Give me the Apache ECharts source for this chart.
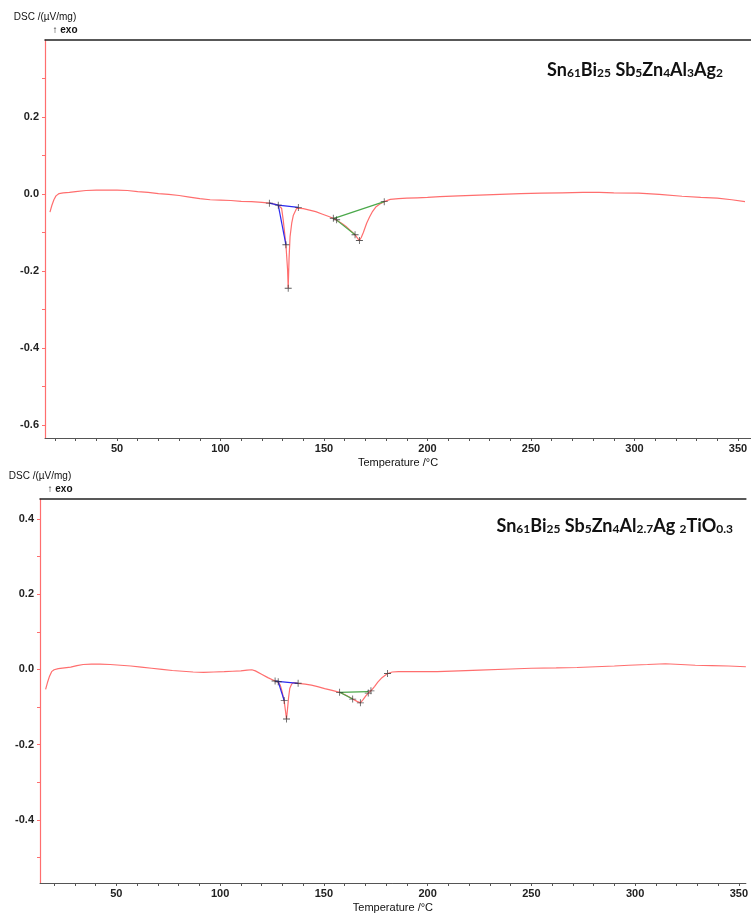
<!DOCTYPE html>
<html>
<head>
<meta charset="utf-8">
<script src="https://cdn.jsdelivr.net/npm/echarts@6/dist/echarts.min.js"></script>
<style>
html,body{margin:0;padding:0;background:#fff;}
#main{width:751px;height:914px;}
</style>
</head>
<body>
<div id="main"></div>
<script>
// 数据：温度 (°C) 与 DSC 信号 (µV/mg)
var curveTop = [
  [17.6,-0.047],[18.5,-0.030],[19.5,-0.015],[20.5,-0.005],[22,0.001],[24,0.003],[27,0.004],[30,0.006],
  [35,0.009],[40,0.010],[45,0.010],[50,0.010],[55,0.009],[60,0.006],[65,0.004],[70,0.001],[75,-0.001],
  [80,-0.004],[85,-0.008],[90,-0.012],[95,-0.015],[100,-0.016],[105,-0.017],[110,-0.019],[115,-0.020],
  [120,-0.022],[123.6,-0.024],[126,-0.026],[127.9,-0.029],[129.5,-0.037],[130.3,-0.068],[131.6,-0.132],
  [132.4,-0.197],[132.7,-0.245],[133.1,-0.170],[133.6,-0.111],[134.4,-0.076],[135.2,-0.055],[136.8,-0.037],
  [137.6,-0.035],[140,-0.038],[143,-0.042],[146,-0.046],[149,-0.052],[152,-0.058],[154.5,-0.063],
  [156.1,-0.068],[158.5,-0.076],[161,-0.086],[163,-0.096],[165,-0.106],[167.1,-0.121],[168,-0.113],
  [169,-0.100],[170.6,-0.076],[172,-0.060],[173.5,-0.045],[175,-0.034],[177,-0.026],[179.1,-0.020],
  [182,-0.014],[186,-0.012],[190,-0.011],[195,-0.010],[200,-0.009],[206,-0.007],[215,-0.005],[225,-0.003],
  [235,-0.001],[245,0.001],[255,0.002],[265,0.003],[275,0.004],[283,0.004],[290,0.003],[302,0.002],
  [312,-0.001],[323,-0.006],[332,-0.009],[340,-0.011],[347,-0.015],[353.4,-0.020]
];
var baseBlueTop = [[123.6,-0.024],[127.9,-0.029],[137.6,-0.035]];
var tanBlueTop = [[127.9,-0.029],[131.6,-0.132]];
var baseGreenTop = [[154.5,-0.064],[179.1,-0.020]];
var tanGreenTop = [[156.1,-0.068],[165,-0.106]];
var marksTop = [[123.6,-0.024],[127.9,-0.029],[131.6,-0.132],[132.7,-0.245],[137.6,-0.035],
  [154.5,-0.063],[156.1,-0.067],[165,-0.106],[167.1,-0.121],[179.1,-0.020]];

var curveBot = [
  [15.9,-0.053],[16.8,-0.035],[17.8,-0.018],[18.8,-0.006],[20,-0.001],[22,0.002],[25,0.004],[28,0.006],
  [31,0.010],[34,0.013],[38,0.014],[42,0.014],[47,0.013],[52,0.011],[57,0.009],[62,0.006],[67,0.003],
  [72,0.000],[77,-0.003],[82,-0.005],[87,-0.007],[92,-0.008],[97,-0.007],[102,-0.006],[106,-0.005],
  [110,-0.004],[113,-0.002],[115.3,-0.001],[117,-0.004],[120,-0.013],[123,-0.022],[126.5,-0.031],
  [128,-0.034],[129,-0.042],[129.8,-0.057],[130.9,-0.085],[131.5,-0.110],[132,-0.132],[132.5,-0.105],
  [133,-0.075],[133.6,-0.050],[134.5,-0.039],[135.5,-0.035],[137.6,-0.037],[141,-0.039],[144,-0.042],
  [147,-0.046],[150.4,-0.051],[154,-0.056],[157.6,-0.061],[160,-0.067],[162,-0.073],[163.9,-0.079],
  [166,-0.085],[167.6,-0.089],[169,-0.080],[170.3,-0.070],[171.4,-0.063],[172.7,-0.057],[174.5,-0.045],
  [176,-0.034],[178,-0.022],[180.7,-0.011],[183,-0.007],[186,-0.006],[195,-0.006],[204.6,-0.006],
  [215,-0.004],[225,-0.002],[240,0.001],[250,0.003],[262,0.004],[272,0.005],[281,0.007],[290,0.009],
  [297,0.011],[306,0.013],[314.6,0.015],[322,0.013],[329,0.011],[337,0.010],[345,0.009],[353.4,0.007]
];
var baseBlueBot = [[126.5,-0.031],[137.6,-0.037]];
var tanBlueBot = [[128,-0.033],[130.9,-0.083]];
var baseGreenBot = [[157.6,-0.061],[171.4,-0.059]];
var tanGreenBot = [[157.6,-0.061],[163.9,-0.079]];
var marksBot = [[126.5,-0.031],[128,-0.033],[130.9,-0.083],[132,-0.132],[137.6,-0.037],[157.6,-0.061],
  [163.9,-0.079],[167.6,-0.089],[171.4,-0.063],[172.7,-0.057],[180.7,-0.011]];

// 刻度
var xLabels = [50,100,150,200,250,300,350];
var xMinor = [20,30,40,50,60,70,80,90,100,110,120,130,140,150,160,170,180,190,200,210,220,230,240,250,260,270,280,290,300,310,320,330,340,350];
var yLabelsTop = [-0.6,-0.4,-0.2,0,0.2];
var yMinorTop = [-0.6,-0.5,-0.4,-0.3,-0.2,-0.1,0,0.1,0.2,0.3];
var yLabelsBot = [-0.4,-0.2,0,0.2,0.4];
var yMinorBot = [-0.5,-0.4,-0.3,-0.2,-0.1,0,0.1,0.2,0.3,0.4];

var RED = '#ff6e6e', BLUE = '#2b2bf0', GREEN = '#4aa84a';
var FONT = 'Liberation Sans';
var crossPath = 'path://M4.4,0H5.6V4.4H10V5.6H5.6V10H4.4V5.6H0V4.4H4.4Z';

function xAxisOf(grid, min, max) {
  return {
    type: 'value', gridIndex: grid, min: min, max: max,
    name: 'Temperature /°C', nameLocation: 'middle', nameGap: 19,
    nameTextStyle: {fontFamily: FONT, fontSize: 11, color: '#111'},
    axisLine: {onZero: false, lineStyle: {color: '#555', width: 1}},
    axisTick: {customValues: xMinor, length: 3, lineStyle: {color: '#555'}},
    axisLabel: {customValues: xLabels, margin: 5, fontFamily: FONT, fontSize: 11, fontWeight: 'bold', color: '#222'},
    splitLine: {show: false}
  };
}
function topAxisOf(grid, min, max) {
  return {
    type: 'value', gridIndex: grid, min: min, max: max, position: 'top',
    axisLine: {onZero: false, lineStyle: {color: '#222', width: 1.5}},
    axisTick: {show: false}, axisLabel: {show: false}, splitLine: {show: false}
  };
}
function yAxisOf(grid, min, max, labels, minor) {
  return {
    type: 'value', gridIndex: grid, min: min, max: max,
    name: '{a|DSC /(µV/mg)}\n{b|↑ exo}', nameLocation: 'end', nameGap: 3,
    nameTextStyle: {
      rich: {
        a: {fontFamily: FONT, fontSize: 10, color: '#111', lineHeight: 14},
        b: {fontFamily: FONT, fontSize: 10, fontWeight: 'bold', color: '#111', lineHeight: 13, padding: [0, 0, 0, 40]}
      }
    },
    axisLine: {show: true, onZero: false, lineStyle: {color: RED, width: 1.2}},
    axisTick: {customValues: minor, length: 3, lineStyle: {color: RED}},
    axisLabel: {customValues: labels, margin: 6, fontFamily: FONT, fontSize: 11, fontWeight: 'bold', color: '#222',
      formatter: function (v) { return v.toFixed(1); }},
    splitLine: {show: false}
  };
}
function lineOf(x, y, data, color, w) {
  return {type: 'line', xAxisIndex: x, yAxisIndex: y, data: data, showSymbol: false,
    lineStyle: {color: color, width: w}, z: 3};
}
function marksOf(x, y, data) {
  return {type: 'scatter', xAxisIndex: x, yAxisIndex: y, data: data, symbol: crossPath,
    symbolSize: 7, itemStyle: {color: '#333'}, z: 5};
}
var subRich = {
  m: {fontFamily: 'Lato', fontWeight: 'bold', fontSize: 18, color: '#111', lineHeight: 22, verticalAlign: 'bottom'},
  s: {fontFamily: 'Lato', fontWeight: 'bold', fontSize: 12, color: '#111', lineHeight: 18, verticalAlign: 'bottom'}
};

var myChart = echarts.init(document.getElementById('main'));
var option = {
  animation: false,
  backgroundColor: '#fff',
  title: [
    {text: '{m|Sn}{s|61}{m|Bi}{s|25}{m| Sb}{s|5}{m|Zn}{s|4}{m|Al}{s|3}{m|Ag}{s|2}',
      right: 23, top: 52, textStyle: {rich: subRich}},
    {text: '{m|Sn}{s|61}{m|Bi}{s|25}{m| Sb}{s|5}{m|Zn}{s|4}{m|Al}{s|2.7}{m|Ag }{s|2}{m|TiO}{s|0.3}',
      right: 13, top: 508, textStyle: {rich: subRich}}
  ],
  grid: [
    {left: 45, right: 0, top: 40, height: 398},
    {left: 40, right: 0, top: 499, height: 388}
  ],
  xAxis: [
    xAxisOf(0, 15.2, 356.3),
    xAxisOf(1, 13.2, 353.4),
    topAxisOf(0, 15.2, 356.3),
    topAxisOf(1, 13.2, 353.4)
  ],
  yAxis: [
    yAxisOf(0, -0.634, 0.4, yLabelsTop, yMinorTop),
    yAxisOf(1, -0.568, 0.453, yLabelsBot, yMinorBot)
  ],
  series: [
    lineOf(0, 0, curveTop, RED, 1.2),
    lineOf(0, 0, baseBlueTop, BLUE, 1.2),
    lineOf(0, 0, tanBlueTop, BLUE, 1.2),
    lineOf(0, 0, baseGreenTop, GREEN, 1.2),
    lineOf(0, 0, tanGreenTop, GREEN, 1.2),
    marksOf(0, 0, marksTop),
    lineOf(1, 1, curveBot, RED, 1.2),
    lineOf(1, 1, baseBlueBot, BLUE, 1.2),
    lineOf(1, 1, tanBlueBot, BLUE, 1.2),
    lineOf(1, 1, baseGreenBot, GREEN, 1.2),
    lineOf(1, 1, tanGreenBot, GREEN, 1.2),
    marksOf(1, 1, marksBot)
  ]
};
myChart.setOption(option);
</script>
</body>
</html>
